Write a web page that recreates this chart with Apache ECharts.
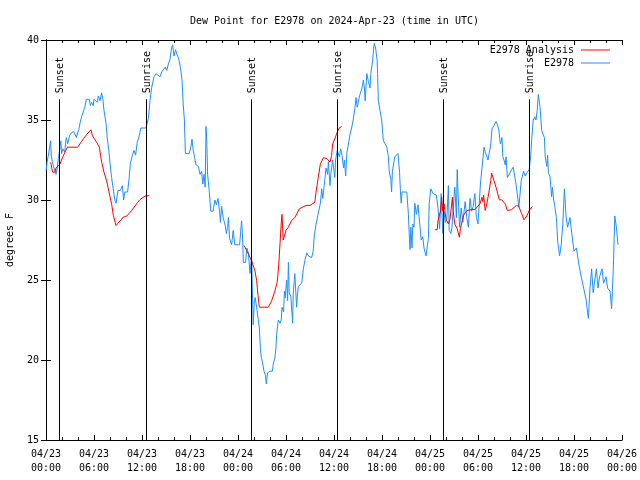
<!DOCTYPE html>
<html>
<head>
<meta charset="utf-8">
<script src="https://cdn.jsdelivr.net/npm/echarts@6/dist/echarts.min.js"></script>
<style>html,body{margin:0;padding:0;background:#fff;}#c{width:640px;height:480px;}</style>
</head>
<body>
<div id="c"></div>
<script>
// ---- data (hours since 2024-04-23 00:00 UTC, dew point in F) ----
var xTickLabels = ['04/23\n00:00','04/23\n06:00','04/23\n12:00','04/23\n18:00','04/24\n00:00','04/24\n06:00','04/24\n12:00','04/24\n18:00','04/25\n00:00','04/25\n06:00','04/25\n12:00','04/25\n18:00','04/26\n00:00'];
var yTicks = [15, 20, 25, 30, 35, 40];

var sunHours = [1.66, 12.5, 25.66, 36.42, 49.66, 60.42];
var sunLabels = ['Sunset', 'Sunrise', 'Sunset', 'Sunrise', 'Sunset', 'Sunrise'];

var analysisSeg1 = [[0.58,32.36],[0.83,31.74],[1.1,31.74],[1.25,32.0],[1.75,32.26],[2.08,32.68],[2.67,33.3],[3.96,33.3],[4.67,33.82],[5.08,34.09],[5.63,34.39],[5.79,34.03],[6.33,33.6],[6.67,33.3],[6.83,32.78],[6.96,32.36],[7.25,31.74],[7.58,31.2],[7.79,30.7],[8.0,30.6],[8.2,29.76],[8.42,29.03],[8.75,28.4],[9.0,28.5],[9.67,28.93],[10.1,29.0],[10.7,29.34],[11.33,29.76],[11.75,30.03],[12.38,30.24],[12.9,30.28]];
var analysisSeg2 = [[24.75,27.16],[25.08,26.84],[25.4,26.53],[25.7,26.2],[25.9,26.2],[26.1,25.6],[26.33,24.97],[26.5,24.03],[26.67,23.3],[27.8,23.3],[28.2,23.7],[28.6,24.3],[28.9,24.86],[29.1,26.0],[29.25,27.26],[29.4,28.5],[29.5,29.1],[29.65,27.5],[29.8,27.5],[30.0,28.1],[30.3,28.3],[30.7,28.72],[31.1,28.9],[31.67,29.45],[31.8,29.55],[32.5,29.66],[33.0,29.66],[33.6,29.86],[33.75,30.49],[34.04,31.43],[34.3,32.26],[34.67,32.64],[35.1,32.6],[35.5,32.36],[35.7,32.78],[35.83,33.5],[36.1,33.82],[36.4,34.24],[36.67,34.51],[36.96,34.59]];
var analysisSeg3 = [[48.6,28.14],[48.9,28.14],[49.0,28.72],[49.33,29.34],[49.46,30.17],[49.6,29.3],[49.75,29.76],[50.0,28.8],[50.3,28.5],[50.5,28.8],[50.8,30.17],[50.9,29.3],[51.1,28.5],[51.4,28.2],[51.67,27.67],[51.8,28.2],[52.17,29.03],[52.6,29.34],[53.2,29.4],[53.6,29.4],[53.8,29.45],[54.25,29.76],[54.5,30.17],[54.6,29.9],[54.7,30.3],[54.9,29.34],[55.1,29.76],[55.33,30.38],[55.6,31.22],[55.7,31.68],[55.9,31.64],[56.25,30.8],[56.67,30.01],[56.96,30.01],[57.4,29.76],[57.67,29.34],[58.2,29.4],[58.8,29.66],[59.1,29.6],[59.46,29.14],[59.75,28.76],[60.1,29.0],[60.4,29.34],[60.8,29.6]];

var obsDay1 = [[0.0,31.8],[0.15,32.4],[0.3,32.8],[0.45,33.3],[0.58,33.7],[0.65,32.8],[0.8,32.4],[1.0,32.0],[1.15,31.9],[1.25,31.6],[1.4,32.0],[1.55,32.6],[1.7,33.1],[1.85,33.7],[1.95,32.9],[2.1,33.2],[2.2,33.3],[2.35,33.0],[2.45,33.6],[2.55,33.9],[2.7,33.5],[2.9,33.9],[3.0,34.1],[3.2,34.2],[3.45,34.3],[3.7,34.2],[3.8,33.9],[3.95,34.2],[4.1,34.4],[4.25,34.8],[4.45,35.2],[4.65,35.5],[4.85,35.8],[5.05,36.3],[5.4,36.3],[5.55,35.9],[5.7,36.1],[5.9,35.9],[6.0,36.3],[6.2,36.4],[6.4,36.1],[6.55,36.5],[6.75,36.2],[6.95,36.7],[7.1,36.3],[7.25,35.6],[7.5,34.8],[7.65,33.9],[7.85,33.1],[8.0,32.3],[8.2,31.4],[8.4,30.7],[8.6,30.0],[8.75,29.8],[8.9,29.8],[9.0,30.6],[9.3,30.6],[9.55,30.9],[9.7,30.0],[9.85,30.5],[10.2,30.5],[10.4,31.4],[10.55,32.3],[10.8,32.8],[11.0,33.1],[11.2,32.8],[11.4,33.6],[11.65,34.0],[11.85,34.5],[12.1,34.6],[12.5,34.5],[12.8,35.1],[13.0,36.2],[13.2,37.0],[13.5,37.7],[13.75,37.9],[14.0,38.0],[14.25,37.7],[14.45,38.0],[14.65,37.9],[14.9,38.3],[15.1,38.1],[15.3,38.5],[15.5,38.8],[15.7,39.5],[15.83,39.7],[16.0,39.0],[16.2,39.4],[16.35,39.1],[16.55,38.9],[16.8,38.3],[17.0,37.5],[17.15,36.0],[17.3,35.0],[17.42,32.9],[17.9,32.9],[18.1,33.3],[18.25,33.8],[18.4,33.1],[18.6,32.6],[18.75,32.2],[19.05,32.1],[19.25,31.6],[19.45,31.8],[19.6,31.0],[19.75,31.6],[19.9,30.8],[20.0,34.6],[20.1,33.7],[20.2,31.6],[20.4,30.6],[20.6,29.3],[20.9,29.3],[21.1,30.0],[21.3,29.7],[21.5,30.1],[21.7,29.3],[21.8,28.6],[21.95,29.6],[22.15,28.9],[22.4,28.4],[22.55,27.9],[22.7,28.3],[22.8,28.9],[22.95,27.6],[23.2,27.2],[23.4,28.1],[23.6,27.2]];
var obsDay2 = [[24.2,27.2],[24.45,28.7],[24.55,27.9],[24.67,26.1],[24.95,26.1],[25.1,27.0],[25.3,26.7],[25.5,25.4],[25.7,26.5],[25.83,23.7],[25.9,22.2],[26.04,23.7],[26.15,23.9],[26.33,23.3],[26.5,23.3],[26.67,22.0],[26.8,20.7],[26.9,20.2],[27.04,19.9],[27.25,19.3],[27.4,19.1],[27.54,18.5],[27.7,19.2],[28.0,19.3],[28.3,19.3],[28.42,19.8],[28.6,20.1],[28.75,20.8],[28.83,21.6],[29.04,22.5],[29.25,22.3],[29.4,22.5],[29.5,23.3],[29.7,23.0],[29.8,24.3],[29.9,23.9],[30.08,25.0],[30.2,23.7],[30.3,26.1],[30.4,24.2],[30.6,24.0],[30.75,23.9],[30.83,22.3],[30.9,24.1],[31.1,25.4],[31.33,23.3],[31.4,23.9],[31.54,24.6],[31.75,24.7],[31.96,24.8],[32.17,25.7],[32.4,26.3],[32.6,26.7],[32.8,26.5],[33.0,26.5],[33.2,26.4],[33.4,26.8],[33.54,27.8],[33.75,28.5],[33.85,28.7],[34.0,29.1],[34.3,29.8],[34.46,30.7],[34.6,30.1],[34.75,30.8],[34.88,31.4],[35.0,32.0],[35.2,31.6],[35.3,32.4],[35.5,30.9],[35.6,31.6],[35.83,32.5],[36.0,31.8],[36.1,31.4],[36.2,32.5],[36.4,33.1],[36.67,32.7],[36.83,33.2],[37.0,32.8],[37.2,32.0],[37.3,32.5],[37.46,31.5],[37.6,32.9],[37.8,33.5],[38.0,34.1],[38.2,34.5],[38.4,35.0],[38.6,35.7],[38.75,36.4],[38.9,35.8],[39.1,36.3],[39.25,36.6],[39.5,37.0],[39.67,37.5],[39.8,37.0],[39.9,36.2],[40.1,37.9],[40.3,37.4],[40.5,37.0],[40.6,37.9],[40.83,38.7],[40.96,39.5],[41.04,39.8],[41.2,39.5],[41.3,39.6],[41.4,38.7],[41.45,37.9],[41.54,36.2],[41.7,36.3],[41.96,35.0],[42.17,33.7],[42.4,33.5],[42.6,33.3],[42.8,32.7],[42.9,31.8],[43.1,31.3],[43.2,30.5],[43.3,31.8],[43.6,32.7],[43.83,32.8],[44.0,32.9],[44.2,31.7],[44.3,30.6],[44.4,29.8],[44.5,30.5],[45.1,30.5],[45.3,29.1],[45.4,27.9],[45.5,26.9],[45.6,28.3],[45.75,27.0],[45.85,28.5],[46.0,28.3],[46.1,29.8],[46.3,29.1],[46.5,29.7],[46.75,29.7],[46.9,27.5],[47.1,27.7],[47.25,27.0],[47.4,27.05],[47.5,26.5],[47.7,26.5],[47.8,27.6]];
var obsDay3 = [[47.9,29.8],[48.1,30.7],[48.4,30.4],[48.6,30.5],[48.8,30.3],[49.0,29.5],[49.2,28.2],[49.4,30.4],[49.6,27.9],[49.75,29.3],[49.9,28.6],[50.1,28.8],[50.3,30.9],[50.4,28.1],[50.6,27.9],[50.75,28.3],[50.9,29.5],[51.1,30.8],[51.3,28.9],[51.4,31.9],[51.5,30.5],[51.7,28.3],[51.9,29.5],[52.1,28.6],[52.4,29.9],[52.6,28.9],[52.8,28.3],[53.0,30.1],[53.2,29.3],[53.4,29.6],[53.6,30.4],[53.8,28.9],[54.0,28.5],[54.15,29.7],[54.3,31.0],[54.45,31.0],[54.5,32.0],[54.75,33.3],[54.9,33.0],[55.1,32.9],[55.25,32.5],[55.5,32.4],[55.6,33.5],[55.75,34.45],[56.0,34.65],[56.25,34.9],[56.4,34.75],[56.6,34.4],[56.8,33.5],[57.0,33.9],[57.1,32.7],[57.25,32.5],[57.4,32.2],[57.5,32.7],[57.67,31.4],[57.9,31.6],[58.2,31.9],[58.4,32.05],[58.6,32.05],[58.75,31.0],[58.9,30.4],[59.0,30.0],[59.1,29.55],[59.3,30.6],[59.4,31.2],[59.55,31.3],[59.7,31.8],[59.9,31.5],[60.1,31.7],[60.3,31.6],[60.4,31.9],[60.6,32.8],[60.7,33.7],[60.9,35.0],[61.1,35.2],[61.25,35.0],[61.4,35.6],[61.54,36.6],[61.7,36.7],[61.75,35.8],[61.96,34.35],[62.2,34.35],[62.3,33.9],[62.4,32.7],[62.6,32.1],[62.7,32.8],[62.8,31.7],[63.0,31.45],[63.2,30.2],[63.3,30.8],[63.46,30.0],[63.6,29.6],[63.8,28.9],[63.96,27.4],[64.2,26.5],[64.4,27.2],[64.6,28.5],[64.8,30.7],[65.0,29.0],[65.2,28.3],[65.5,28.9],[65.7,28.0],[66.0,26.8],[66.3,27.0],[66.6,26.0],[66.9,25.2],[67.2,24.5],[67.5,23.8],[67.8,22.6],[68.0,24.5],[68.2,25.7],[68.4,24.2],[68.6,25.0],[68.8,25.7],[69.0,24.5],[69.2,25.2],[69.5,25.7],[69.7,24.8],[70.0,25.2],[70.2,24.5],[70.5,24.3],[70.7,23.2],[70.9,25.5],[71.1,29.0],[71.3,28.3],[71.5,27.2]];

// ---- build ----
var FONT = 'DejaVu Sans Mono';
var analysisData = analysisSeg1.concat([[13.5, '-']], analysisSeg2, [[37.5, '-']], analysisSeg3);
var obsData = obsDay1.concat(obsDay2, obsDay3);

var chart = echarts.init(document.getElementById('c'), null, {renderer: 'canvas'});
var axisBase = {
  type: 'value', min: 0, max: 72, interval: 6,
  axisLine: {show: true, lineStyle: {color: '#000', width: 1}},
  axisTick: {show: true, inside: true, length: 5, lineStyle: {color: '#000'}},
  minorTick: {show: true, splitNumber: 3, length: 3, lineStyle: {color: '#000'}},
  splitLine: {show: false}
};
var yBase = {
  type: 'value', min: yTicks[0], max: yTicks[yTicks.length - 1], interval: 5,
  axisLine: {show: true, lineStyle: {color: '#000', width: 1}},
  axisTick: {show: true, inside: true, length: 5, lineStyle: {color: '#000'}},
  splitLine: {show: false}
};
chart.setOption({
  animation: false,
  backgroundColor: '#fff',
  title: {
    text: 'Dew Point for E2978 on 2024-Apr-23 (time in UTC)',
    left: 185, top: 11,
    textStyle: {fontFamily: FONT, fontSize: 10, fontWeight: 'normal', color: '#000'}
  },
  legend: {
    data: ['E2978 Analysis', 'E2978'],
    orient: 'vertical', right: 25, top: 40, align: 'right',
    itemWidth: 29, itemHeight: 1, itemGap: 3, icon: 'rect',
    textStyle: {fontFamily: FONT, fontSize: 10, color: '#000', padding: [0, 2, 0, 0]}
  },
  grid: {left: 46, right: 18, top: 40, bottom: 40, containLabel: false, outerBoundsMode: 'none'},
  xAxis: [
    Object.assign({}, axisBase, {position: 'bottom',
      axisLabel: {show: true, fontFamily: FONT, fontSize: 10, color: '#000', margin: 7, lineHeight: 14,
        showMinLabel: true, showMaxLabel: true,
        formatter: function (v) { return xTickLabels[Math.round(v / 6)]; }}}),
    Object.assign({}, axisBase, {position: 'top', axisLabel: {show: false}})
  ],
  yAxis: [
    Object.assign({}, yBase, {position: 'left', name: 'degrees F', nameLocation: 'middle', nameRotate: 90, nameGap: 31,
      nameTextStyle: {fontFamily: FONT, fontSize: 10, color: '#000'},
      axisLabel: {show: true, fontFamily: FONT, fontSize: 10, color: '#000', margin: 7}}),
    Object.assign({}, yBase, {position: 'right', axisLabel: {show: false}})
  ],
  series: [
    {
      name: 'E2978 Analysis', type: 'line', data: analysisData, showSymbol: false, symbol: 'none',
      lineStyle: {color: '#ff0000', width: 1}, itemStyle: {color: '#ff0000'}, connectNulls: false, z: 3
    },
    {
      name: 'E2978', type: 'line', data: obsData, showSymbol: false, symbol: 'none',
      lineStyle: {color: '#1e90ff', width: 1}, itemStyle: {color: '#1e90ff'}, z: 2
    },
    {
      name: 'sun', type: 'custom', z: 4, silent: true,
      data: sunHours.map(function (h) { return [h, 15]; }),
      renderItem: function (params, api) {
        var h = api.value(0);
        var p0 = api.coord([h, 15]);
        var p1 = api.coord([h, 36.3]);
        var x = Math.round(p0[0]) + 0.5;
        return {type: 'group', children: [
          {type: 'line', shape: {x1: x, y1: p0[1], x2: x, y2: p1[1]}, style: {stroke: '#000', lineWidth: 1}},
          {type: 'text', x: x + 1, y: p1[1] - 6, rotation: Math.PI / 2,
            style: {text: sunLabels[params.dataIndex], fontFamily: FONT, fontSize: 10, fill: '#000', align: 'left', verticalAlign: 'middle'}}
        ]};
      }
    }
  ]
});
</script>
</body>
</html>
